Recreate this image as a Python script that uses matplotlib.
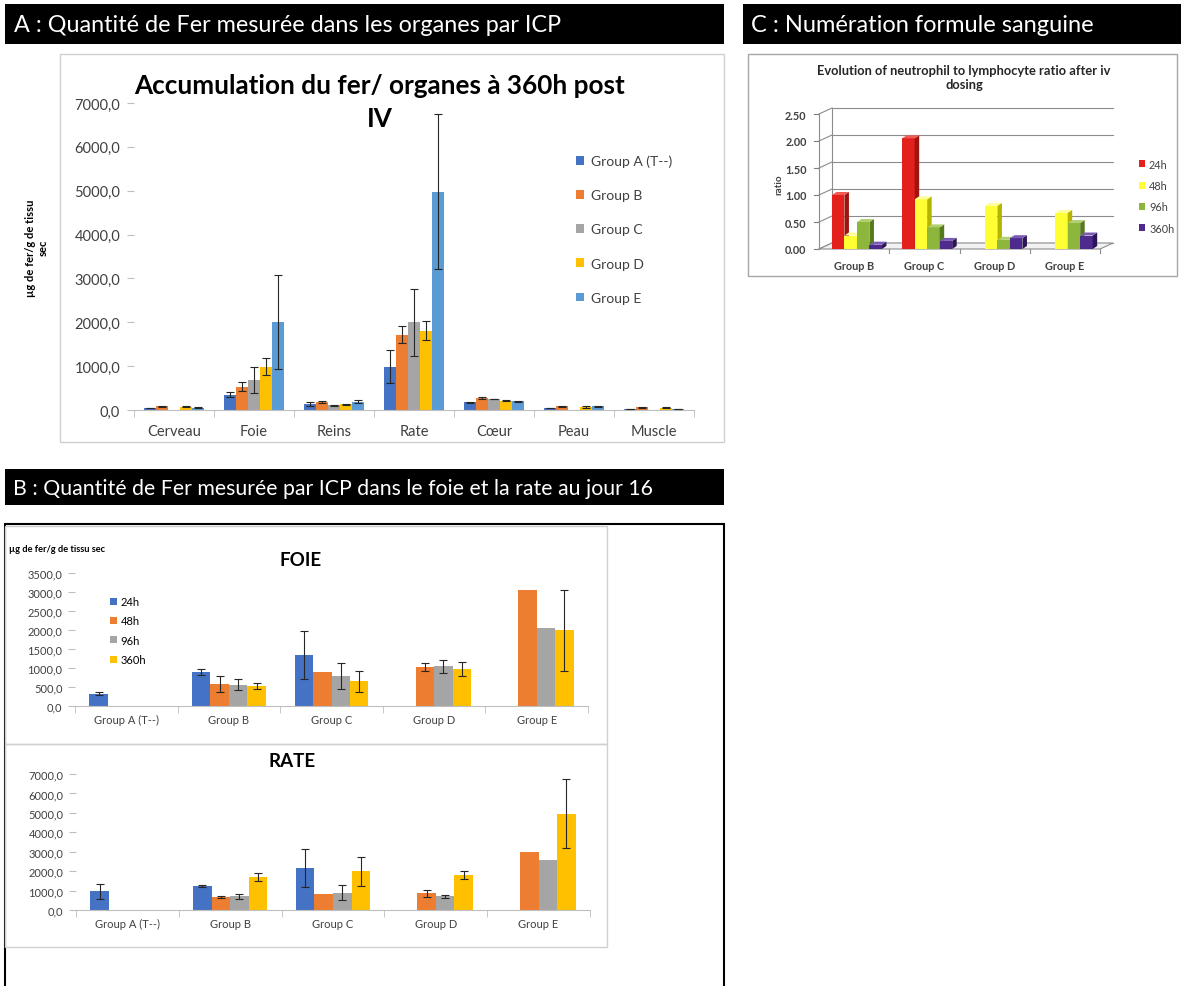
import numpy as np
import matplotlib
matplotlib.use('Agg')
import matplotlib.pyplot as plt
from matplotlib.patches import Rectangle, Polygon
from matplotlib.ticker import FuncFormatter

plt.rcParams['font.family'] = ['Lato', 'DejaVu Sans']

W, H = 1181, 987
nan = np.nan

# --- A : fer par organe à 360h post IV (µg de fer / g de tissu sec)
organes = ['Cerveau', 'Foie', 'Reins', 'Rate', 'Cœur', 'Peau', 'Muscle']
groupes = ['Group A (T--)', 'Group B', 'Group C', 'Group D', 'Group E']
org_grp_a = [45, 350, 130, 990, 175, 45, 30]
org_grp_b = [85, 530, 180, 1720, 275, 85, 60]
org_grp_c = [nan, 680, 110, 2000, 250, nan, nan]
org_grp_d = [70, 990, 130, 1810, 215, 70, 55]
org_grp_e = [55, 2000, 190, 4980, 200, 85, 20]
err_grp_a = [8, 50, 50, 370, 10, 5, 4]
err_grp_b = [10, 100, 30, 190, 15, 15, 10]
err_grp_c = [nan, 290, 10, 760, 10, nan, nan]
err_grp_d = [10, 200, 15, 210, 20, 15, 10]
err_grp_e = [10, 1070, 30, 1760, 15, 15, 5]

# --- B : foie et rate au jour 16
groupes_b = ['Group A (T--)', 'Group B', 'Group C', 'Group D', 'Group E']
temps = ['24h', '48h', '96h', '360h']
foie_24h = [320, 900, 1340, nan, nan]
foie_48h = [nan, 580, 890, 1020, 3060]
foie_96h = [nan, 560, 790, 1050, 2060]
foie_360h = [nan, 530, 650, 970, 1990]
err_foie_24h = [40, 80, 630, nan, nan]
err_foie_48h = [nan, 200, nan, 100, nan]
err_foie_96h = [nan, 150, 330, 170, nan]
err_foie_360h = [nan, 80, 280, 190, 1070]

rate_24h = [960, 1230, 2150, nan, nan]
rate_48h = [nan, 650, 800, 850, 3000]
rate_96h = [nan, 700, 900, 700, 2550]
rate_360h = [nan, 1700, 2000, 1800, 4950]
err_rate_24h = [400, 60, 990, nan, nan]
err_rate_48h = [nan, 50, nan, 190, nan]
err_rate_96h = [nan, 140, 390, 90, nan]
err_rate_360h = [nan, 190, 750, 200, 1770]

# --- C : ratio neutrophiles / lymphocytes
nfs_groupes = ['Group B', 'Group C', 'Group D', 'Group E']
ratio_24h = [1.00, 2.05, nan, nan]
ratio_48h = [0.25, 0.92, 0.80, 0.67]
ratio_96h = [0.50, 0.40, 0.17, 0.48]
ratio_360h = [0.08, 0.15, 0.20, 0.25]

BLEU, ORANGE, GRIS, JAUNE, BLEU_CLAIR = '#4472C4', '#ED7D31', '#A5A5A5', '#FFC000', '#5B9BD5'
TXT = '#404040'
LIGNE = '#BFBFBF'


def px(x0, y0, x1, y1):
    # rectangle en pixels (origine en haut à gauche) -> coordonnées figure
    return [x0 / W, 1 - y1 / H, (x1 - x0) / W, (y1 - y0) / H]


def cadre(fig, x0, y0, x1, y1, **kw):
    l, b, w, h = px(x0, y0, x1, y1)
    fig.add_artist(Rectangle((l, b), w, h, transform=fig.transFigure, **kw))


def virgule(v, pos):
    return f'{v:.1f}'.replace('.', ',')


def style_excel(ax, categories, ymax, pas, taille, xpad, ypad):
    ax.set_facecolor('none')
    n = len(categories)
    ax.set_xlim(-0.5, n - 0.5)
    ax.set_ylim(0, ymax)
    for s in ['top', 'right', 'left']:
        ax.spines[s].set_visible(False)
    ax.spines['bottom'].set_color(LIGNE)
    ax.set_xticks(range(n))
    ax.set_xticklabels(categories)
    ax.set_xticks(np.arange(-0.5, n), minor=True)
    ax.tick_params(axis='x', which='major', length=0, pad=xpad, labelsize=taille, labelcolor=TXT)
    ax.tick_params(axis='x', which='minor', length=5, color=LIGNE, direction='out')
    ax.set_yticks(np.arange(0, ymax + 1, pas))
    ax.yaxis.set_major_formatter(FuncFormatter(virgule))
    ax.tick_params(axis='y', length=5, color=LIGNE, labelsize=taille, labelcolor=TXT, pad=ypad)


def barres_groupees(ax, series, erreurs, couleurs, labels, largeur):
    n = len(series)
    x = np.arange(len(series[0]))
    for i, (vals, errs, c, lab) in enumerate(zip(series, erreurs, couleurs, labels)):
        pos = x + (i - (n - 1) / 2) * largeur
        ax.bar(pos, vals, largeur, color=c, label=lab, zorder=2)
        ax.errorbar(pos, vals, yerr=errs, fmt='none', ecolor='#262626',
                    elinewidth=0.8, capsize=3, capthick=0.8, zorder=3)


fig = plt.figure(figsize=(W / 100, H / 100), dpi=100)

# bandeaux noirs
cadre(fig, 5, 5, 724, 45, facecolor='black', edgecolor='none')
cadre(fig, 743, 5, 1181, 45, facecolor='black', edgecolor='none')
cadre(fig, 5, 470, 724, 506, facecolor='black', edgecolor='none')
fig.text(14 / W, 1 - 26 / H, 'A : Quantité de Fer mesurée dans les organes par ICP',
         color='white', fontsize=16.8, va='center')
fig.text(751 / W, 1 - 26 / H, 'C : Numération formule sanguine',
         color='white', fontsize=17, va='center')
fig.text(13 / W, 1 - 489 / H, 'B : Quantité de Fer mesurée par ICP dans le foie et la rate au jour 16',
         color='white', fontsize=15.3, va='center')

# ---------------- A ----------------
cadre(fig, 60, 55, 724, 443, facecolor='none', edgecolor='#D0D0D0', lw=1)
axA = fig.add_axes(px(134, 104, 694, 411))
barres_groupees(axA, [org_grp_a, org_grp_b, org_grp_c, org_grp_d, org_grp_e],
                [err_grp_a, err_grp_b, err_grp_c, err_grp_d, err_grp_e],
                [BLEU, ORANGE, GRIS, JAUNE, BLEU_CLAIR], groupes, 0.15)
style_excel(axA, organes, 7000, 1000, 10.5, 10, 5)
fig.text(380 / W, 1 - 74 / H, 'Accumulation du fer/ organes à 360h post\nIV',
         ha='center', va='top', fontsize=18.8, fontweight='bold', linespacing=1.45)
fig.text(37 / W, 1 - 248 / H, 'µg de fer/g de tissu\nsec', rotation=90, ha='center', va='center',
         fontsize=8, fontweight='bold', multialignment='center')
fig.legend(*axA.get_legend_handles_labels(), loc='upper left',
           bbox_to_anchor=(563 / W, 1 - 143 / H), frameon=False, fontsize=10,
           handlelength=0.6, handleheight=0.6, handletextpad=0.5, labelspacing=1.6,
           labelcolor=TXT)

# ---------------- B : FOIE ----------------
cadre(fig, 5, 525, 724, 995, facecolor='none', edgecolor='black', lw=1.5)
cadre(fig, 5, 527, 607, 745, facecolor='none', edgecolor='#D0D0D0', lw=1)
cadre(fig, 5, 745, 607, 948, facecolor='none', edgecolor='#D0D0D0', lw=1)

couleurs_b = [BLEU, ORANGE, GRIS, JAUNE]
axF = fig.add_axes(px(75, 574, 588, 707))
barres_groupees(axF, [foie_24h, foie_48h, foie_96h, foie_360h],
                [err_foie_24h, err_foie_48h, err_foie_96h, err_foie_360h],
                couleurs_b, temps, 0.18)
style_excel(axF, groupes_b, 3500, 500, 8, 6, 4)
axF.text(0.44, 1.10, 'FOIE', transform=axF.transAxes, ha='center', va='center',
         fontsize=13.5, fontweight='bold')
fig.text(9 / W, 1 - 549 / H, 'µg de fer/g de tissu sec', fontsize=6.7, fontweight='bold',
         va='center')
fig.legend(*axF.get_legend_handles_labels(), loc='upper left',
           bbox_to_anchor=(100 / W, 1 - 587 / H), frameon=False, fontsize=8,
           handlelength=0.6, handleheight=0.6, handletextpad=0.35, labelspacing=0.75)

# ---------------- B : RATE ----------------
axR = fig.add_axes(px(76, 775, 590, 911))
barres_groupees(axR, [rate_24h, rate_48h, rate_96h, rate_360h],
                [err_rate_24h, err_rate_48h, err_rate_96h, err_rate_360h],
                couleurs_b, temps, 0.18)
style_excel(axR, groupes_b, 7000, 1000, 8, 6, 4)
axR.text(0.42, 1.10, 'RATE', transform=axR.transAxes, ha='center', va='center',
         fontsize=13.5, fontweight='bold')

# ---------------- C : histogramme 3D ----------------
cadre(fig, 748, 55, 1177, 277, facecolor='none', edgecolor='#A6A6A6', lw=1)
x0c, y0c, x1c, y1c = 819, 115, 1100, 250
axC = fig.add_axes(px(x0c, y0c, x1c, y1c))
axC.set_facecolor('none')
axC.set_xlim(-0.5, 3.5)
axC.set_ylim(0, 2.5)
for s in axC.spines.values():
    s.set_visible(False)

# conversion pixels -> données pour la profondeur
ux = 4 / (x1c - x0c)
uy = 2.5 / (y1c - y0c)
mur_dx, mur_dy = 13 * ux, 6 * uy
barre_dx, barre_dy = 4.5 * ux, 3 * uy

niveaux = np.arange(0, 2.51, 0.5)
for v in niveaux:
    axC.plot([-0.5 + mur_dx, 3.5 + mur_dx], [v + mur_dy, v + mur_dy], color='#8C8C8C', lw=0.8,
             clip_on=False, zorder=1)
    axC.plot([-0.5, -0.5 + mur_dx], [v, v + mur_dy], color='#8C8C8C', lw=0.8, clip_on=False, zorder=1)
    axC.plot([-0.57, -0.5], [v, v], color='#7F7F7F', lw=0.8, clip_on=False)
axC.plot([-0.5, -0.5], [0, 2.5], color='#8C8C8C', lw=0.8, clip_on=False)
axC.plot([-0.5 + mur_dx, -0.5 + mur_dx], [mur_dy, 2.5 + mur_dy], color='#8C8C8C', lw=0.8, clip_on=False)
axC.add_patch(Polygon([(-0.5, 0), (3.5, 0), (3.5 + mur_dx, mur_dy), (-0.5 + mur_dx, mur_dy)],
                      closed=True, facecolor='#F2F2F2', edgecolor='#8C8C8C', lw=0.8, clip_on=False, zorder=1))
for b in np.arange(0.5, 3.6, 1):
    axC.plot([b, b], [0, -0.07], color='#8C8C8C', lw=0.8, clip_on=False)

faces = [('#E3201B', '#9E1410', '#F05A55'),
         ('#FFFF33', '#B5B500', '#FFFF99'),
         ('#8DB63C', '#557A1E', '#B0D070'),
         ('#4E2A8E', '#2C1657', '#7A5CB5')]
series_c = [ratio_24h, ratio_48h, ratio_96h, ratio_360h]
larg = 0.178
xg = np.arange(len(nfs_groupes))
for g in xg:
    for i, (vals, (cf, cs, ct)) in enumerate(zip(series_c, faces)):
        h = vals[g]
        if np.isnan(h):
            continue
        xc = g + 0.04 + (i - 1.5) * larg
        z = 2 + g * 10 + i
        axC.bar(xc, h, larg, color=cf, zorder=z, label=temps[i] if g == 1 else None)
        d = xc + larg / 2
        g_ = xc - larg / 2
        axC.add_patch(Polygon([(d, 0), (d + barre_dx, barre_dy), (d + barre_dx, h + barre_dy), (d, h)],
                              closed=True, facecolor=cs, edgecolor='none', zorder=z, clip_on=False))
        axC.add_patch(Polygon([(g_, h), (d, h), (d + barre_dx, h + barre_dy), (g_ + barre_dx, h + barre_dy)],
                              closed=True, facecolor=ct, edgecolor='none', zorder=z, clip_on=False))

axC.set_xticks(xg)
axC.set_xticklabels(nfs_groupes)
axC.set_yticks(niveaux)
axC.yaxis.set_major_formatter(FuncFormatter(lambda v, p: f'{v:.2f}'))
axC.tick_params(axis='x', length=0, pad=8, labelsize=7.8, labelcolor=TXT)
axC.tick_params(axis='y', length=0, pad=9, labelsize=7.8, labelcolor=TXT)
for t in axC.get_xticklabels() + axC.get_yticklabels():
    t.set_fontweight('bold')
fig.text(779 / W, 1 - 185 / H, 'ratio', rotation=90, ha='center', va='center',
         fontsize=7, fontweight='bold', color=TXT)
fig.text(964 / W, 1 - 65 / H, 'Evolution of neutrophil to lymphocyte ratio after iv\ndosing',
         ha='center', va='top', fontsize=9.3, fontweight='bold', color='#262626', linespacing=1.2)
handles, labels = axC.get_legend_handles_labels()
fig.legend(handles, labels, loc='upper left', bbox_to_anchor=(1129 / W, 1 - 150 / H),
           frameon=False, fontsize=7.8, handlelength=0.6, handleheight=0.6,
           handletextpad=0.35, labelspacing=0.95, labelcolor=TXT)

fig.savefig('out.png', dpi=100)
